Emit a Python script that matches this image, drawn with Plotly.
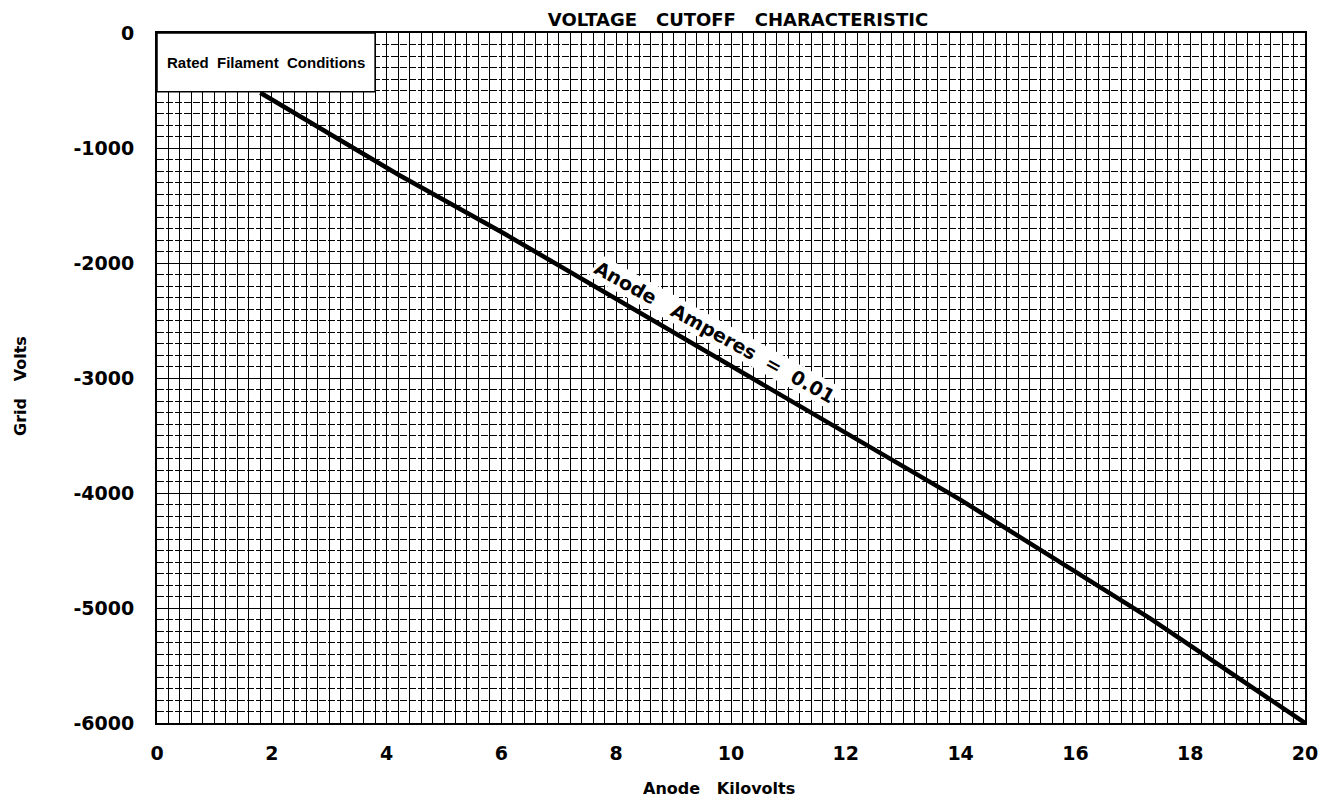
import plotly.graph_objects as go

# Data
anode_kv = [1.8, 2.2, 4.2, 6.0, 10.5, 14.0, 17.3, 20.0]
grid_volts = [-520, -640, -1230, -1730, -3040, -4060, -5090, -6000]

x_ticks = [0, 2, 4, 6, 8, 10, 12, 14, 16, 18, 20]
x_labels = ["0", "2", "4", "6", "8", "10", "12", "14", "16", "18", "20"]
y_ticks = [0, -1000, -2000, -3000, -4000, -5000, -6000]
y_labels = ["0", "-1000", "-2000", "-3000", "-4000", "-5000", "-6000"]

title_text = "VOLTAGE   CUTOFF   CHARACTERISTIC"
box_text = "Rated  Filament  Conditions"
curve_label = "Anode   Amperes  =  0.01"
x_title = "Anode   Kilovolts"
y_title = "Grid   Volts"

FONT = "DejaVu Sans"

fig = go.Figure()
fig.add_trace(go.Scatter(x=anode_kv, y=grid_volts, mode="lines",
                         line=dict(color="black", width=4.5), showlegend=False,
                         hoverinfo="skip"))

# page body has an 8px default margin, so the figure is sized to fit the window
fig.update_layout(
    width=1313, height=793,
    margin=dict(l=149, r=16, t=25, b=78),
    paper_bgcolor="white", plot_bgcolor="white",
    font=dict(family=FONT, color="black"),
    title=dict(text=title_text, x=0.556, xanchor="center", y=0.985, yanchor="middle",
               font=dict(size=18, family=FONT, color="black", weight="bold")),
)

fig.update_xaxes(
    range=[0, 20], tickvals=x_ticks, ticktext=x_labels, automargin=False,
    tickfont=dict(size=19, family=FONT, weight="bold"),
    showgrid=True, gridcolor="black", gridwidth=1,
    minor=dict(dtick=0.2, showgrid=True, gridcolor="black", gridwidth=1),
    showline=True, linecolor="black", linewidth=2, mirror=True,
    ticks="", zeroline=False, ticklabelstandoff=12,
)
fig.update_yaxes(
    range=[-6000, 0], tickvals=y_ticks, ticktext=y_labels, automargin=False,
    tickfont=dict(size=19, family=FONT, weight="bold"),
    showgrid=True, gridcolor="black", gridwidth=1,
    minor=dict(dtick=100, showgrid=True, gridcolor="black", gridwidth=1, griddash="7px,2px"),
    showline=True, linecolor="black", linewidth=2, mirror=True,
    ticks="", zeroline=False, ticklabelstandoff=17,
)

# axis titles placed as paper annotations
fig.add_annotation(x=(719 - 8 - 149) / 1148, y=-(789 - 8 - 715) / 690, xref="paper", yref="paper",
                   text=x_title, showarrow=False, yanchor="middle",
                   font=dict(size=16, family=FONT, color="black", weight="bold"))
fig.add_annotation(x=-(157 - 20) / 1148, y=(723 - 386) / 690, xref="paper", yref="paper",
                   text=y_title, showarrow=False, textangle=-90, xanchor="center",
                   font=dict(size=16, family=FONT, color="black", weight="bold"))

fig.add_shape(type="rect", x0=0, x1=3.8, y0=-510, y1=0, xref="x", yref="y",
              fillcolor="white", line=dict(color="black", width=1.5), layer="above")
fig.add_annotation(x=1.9, y=-255, xref="x", yref="y", text=box_text, showarrow=False,
                   font=dict(size=15, family="Liberation Sans", color="black", weight="bold"))
fig.add_annotation(x=9.72, y=-2600, xref="x", yref="y", text=curve_label, showarrow=False,
                   textangle=29, bgcolor="white",
                   font=dict(size=19, family=FONT, color="black", weight="bold"))

fig.write_html("out.html")
